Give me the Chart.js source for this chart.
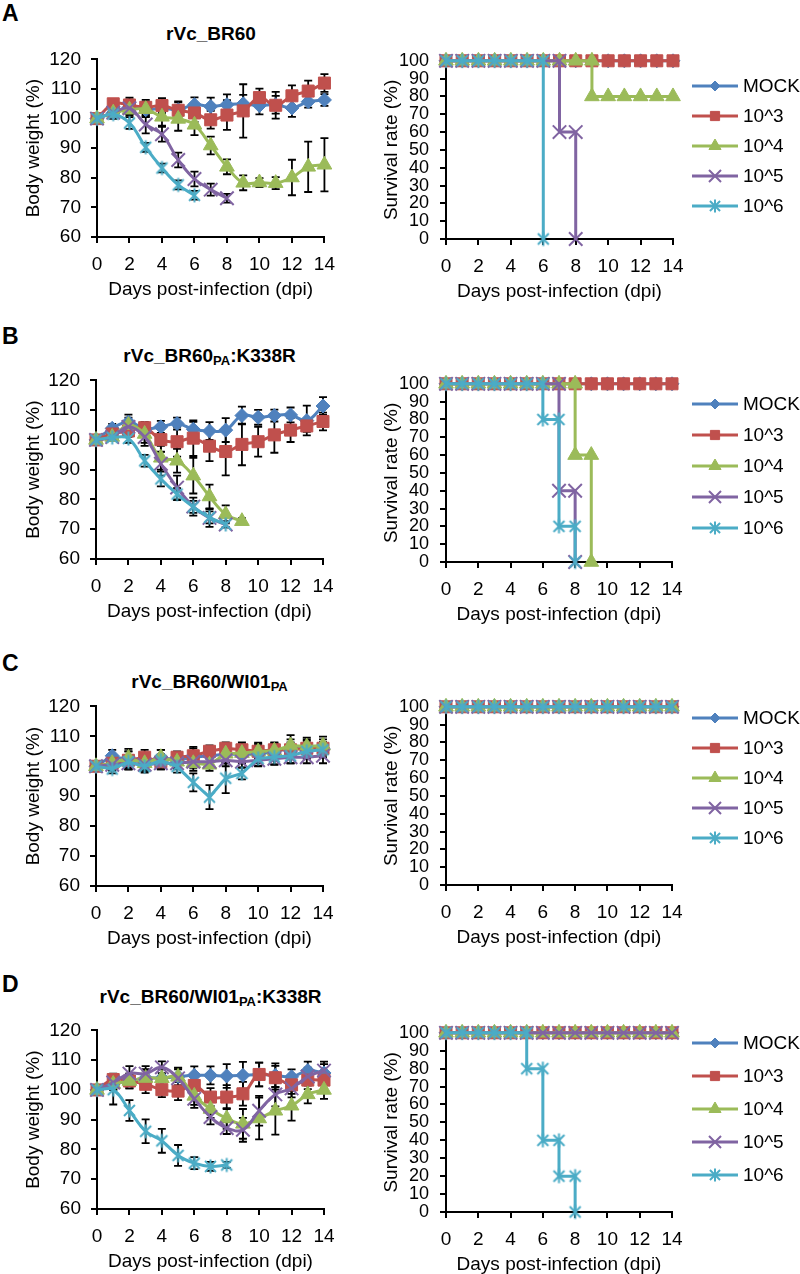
<!DOCTYPE html>
<html><head><meta charset="utf-8">
<script src="https://cdn.jsdelivr.net/npm/chart.js@4.4.1/dist/chart.umd.min.js"></script>
<style>
body{margin:0;background:#fff;width:800px;height:1274px;position:relative;overflow:hidden;font-family:"Liberation Sans",Arial,sans-serif;color:#000}
canvas{position:absolute}
.lbl{position:absolute;font-weight:bold;font-size:23px;line-height:1;transform:translateY(-50%)}
.ttl{position:absolute;font-weight:bold;font-size:19px;transform:translate(-50%,-50%);white-space:nowrap;line-height:1}
.ttl sub{font-size:13px;vertical-align:baseline;position:relative;top:3px}
</style></head>
<body>
<script>
// ---------------- DATA ----------------
const days = [0,1,2,3,4,5,6,7,8,9,10,11,12,13,14];
const seriesLabels = ['MOCK','10^3','10^4','10^5','10^6'];
const panelTitles = ['rVc_BR60','rVc_BR60<sub>PA</sub>:K338R','rVc_BR60/WI01<sub>PA</sub>','rVc_BR60/WI01<sub>PA</sub>:K338R'];
const panelLetters = ['A','B','C','D'];
const xTitle = 'Days post-infection (dpi)';
const yTitleWeight = 'Body weight (%)';
const yTitleSurv = 'Survival rate (%)';

// Panel A body weight (%) mean and SD
const wA_mock = [100,102,104,103,103.5,103,104.7,104.1,104.7,105.0,104.4,104.7,103.6,105.7,106.3];
const sdA_mock = [0,2,2.5,2.5,2.5,2.5,2.5,3,3.5,3,3,3,3,2,2];
const wA_e3 = [100,105,104.6,103.8,104.4,102.8,101.9,99.6,101.2,102.6,107.1,104.5,107.7,109.3,112.0];
const sdA_e3 = [0,1.5,2.5,2.5,2.5,3,3,3,5,9,3,4.5,3.5,3.5,3];
const wA_e4 = [100,102,103,103.2,100.6,99.9,97.9,90.9,83.7,78.3,78.4,78.2,80.1,83.7,84.4];
const sdA_e4 = [0,1,2,2.5,3,4,3.5,3,2.5,2.5,1.5,2,6,8.5,9];
const wA_e5 = [100,102,103.5,98,94.7,86,79.6,76,73.1];
const sdA_e5 = [0,1.5,2,3,2.5,2.5,2.5,2,1.5];
const wA_e6 = [100,101.5,98.5,90.3,83.3,77.6,74.1];
const sdA_e6 = [0,1.5,2,1.5,1.5,1.5,1.5];

// Panel B
const wB_mock = [100,103.9,106,103.9,104.4,105.5,103.6,103,103.3,108.2,107.6,108.2,108.4,106.5,111.4];
const sdB_mock = [0,1.5,2.5,2,2,2,2.5,3,4,3,2.5,2,2.5,5,3];
const wB_e3 = [100,102,103,104.1,100.1,99.4,100.6,97.9,96.1,98.5,99.4,101.7,103.3,104.7,106.2];
const sdB_e3 = [0,1.5,2,2,4,5,6,5,8,7,5,6,4,2,3];
const wB_e4 = [100,101,105,102,94,93,88,81,75,72.7];
const sdB_e4 = [0,1,2.5,3,4,4,6,4,3,1];
const wB_e5 = [100,101,104.4,101,92,84,77.6,73.8,71.6];
const sdB_e5 = [0,1,2,3,4,4,3,3,1];
const wB_e6 = [100,100.8,100.5,93,86.9,81.8,77.5,74,71.6];
const sdB_e6 = [0,1,1.5,2,2.5,2,2,2,1];

// Panel C
const wC_mock = [100,103.5,102,101.5,103,102,103,103.5,104,104,104,105,106,106,106];
const sdC_mock = [0,2,3,2.5,2.5,2,3,3,3,3,3,3,3,3,3];
const wC_e3 = [100,101,102,103,101.5,103,103.5,105,106,105.5,105,105.5,105.5,106,106];
const sdC_e3 = [0,2,3,2.5,2.5,2,3,2,2,2.5,2.5,2,2.5,2.5,2];
const wC_e4 = [100,101,102.8,101,103,101.5,101,100.5,104.2,104.4,104.9,105.2,106.9,106.6,106.9];
const sdC_e4 = [0,2,3,2.5,2.5,2,2.5,2,3,3,3,2.5,3.5,3,3];
const wC_e5 = [100,100.5,101,100.5,101,101,101.5,101.5,102,101.5,102,102.5,103,103,103.5];
const sdC_e5 = [0,2,2,2,2,2,2,2,2,2,2,2,2,2,2.5];
const wC_e6 = [100,99.1,101.5,99.9,102,99.9,94.6,89.7,96,97.6,102.6,103.1,103.5,105,105.5];
const sdC_e6 = [0,1.5,2,2,2,2,3,4,5,2,2.5,2.5,2.5,2.5,2.5];

// Panel D
const wD_mock = [100,102,103,104,104,104.5,104.9,104.9,104.7,104.9,105.2,104.9,104.4,106.5,105.7];
const sdD_mock = [0,2,2,2.5,3,3,3,3,4,4.5,4,4,2.5,3,3];
const wD_e3 = [100,103.5,103,101.9,100.1,99.6,101.5,97.6,97.6,98.7,105.2,104.1,101.7,103.3,103.3];
const sdD_e3 = [0,2,2.5,3,2.5,3,3,3,4,4,4,4,3,3,3];
const wD_e4 = [100,102,103,104,103.9,104.4,98,93.6,90.4,88.6,90.4,93,94.7,98.5,100];
const sdD_e4 = [0,2,2.5,3,3,3,3,3,3.5,5,7,8,5,3,3];
const wD_e5 = [100,102.5,105.5,105.5,107.6,103.9,97,90.9,87.2,86.6,93,98.5,100.5,104.5,106.5];
const sdD_e5 = [0,2,2.5,2.5,2,3,3,2.5,2,4,5,4,3,3,3];
const wD_e6 = [100,100.1,93.1,86.1,82.9,78,75.4,74.3,74.8];
const sdD_e6 = [0,5,3.5,4,4,3.5,2,1.5,1];

// Survival (%) step data: day and percent
const survAll_x = [0,1,2,3,4,5,6,7,8,9,10,11,12,13,14];
const survAll_y = [100,100,100,100,100,100,100,100,100,100,100,100,100,100,100];
const survA_e4_x = [0,1,2,3,4,5,6,7,8,9,9,10,11,12,13,14];
const survA_e4_y = [100,100,100,100,100,100,100,100,100,100,80,80,80,80,80,80];
const survA_e5_x = [0,1,2,3,4,5,6,7,7,8,8];
const survA_e5_y = [100,100,100,100,100,100,100,100,60,60,0];
const survA_e6_x = [0,1,2,3,4,5,6,6];
const survA_e6_y = [100,100,100,100,100,100,100,0];
const survB_e4_x = [0,1,2,3,4,5,6,7,8,8,9,9];
const survB_e4_y = [100,100,100,100,100,100,100,100,100,60,60,0];
const survB_e5_x = [0,1,2,3,4,5,6,7,7,8,8];
const survB_e5_y = [100,100,100,100,100,100,100,100,40,40,0];
const survB_e6_x = [0,1,2,3,4,5,6,6,7,7,8,8];
const survB_e6_y = [100,100,100,100,100,100,100,80,80,20,20,0];
const survD_e6_x = [0,1,2,3,4,5,5,6,6,7,7,8,8];
const survD_e6_y = [100,100,100,100,100,100,80,80,40,40,20,20,0];

const weightMeans = [
  [wA_mock,wA_e3,wA_e4,wA_e5,wA_e6],
  [wB_mock,wB_e3,wB_e4,wB_e5,wB_e6],
  [wC_mock,wC_e3,wC_e4,wC_e5,wC_e6],
  [wD_mock,wD_e3,wD_e4,wD_e5,wD_e6]
];
const weightSDs = [
  [sdA_mock,sdA_e3,sdA_e4,sdA_e5,sdA_e6],
  [sdB_mock,sdB_e3,sdB_e4,sdB_e5,sdB_e6],
  [sdC_mock,sdC_e3,sdC_e4,sdC_e5,sdC_e6],
  [sdD_mock,sdD_e3,sdD_e4,sdD_e5,sdD_e6]
];
const survXs = [
  [survAll_x,survAll_x,survA_e4_x,survA_e5_x,survA_e6_x],
  [survAll_x,survAll_x,survB_e4_x,survB_e5_x,survB_e6_x],
  [survAll_x,survAll_x,survAll_x,survAll_x,survAll_x],
  [survAll_x,survAll_x,survAll_x,survAll_x,survD_e6_x]
];
const survYs = [
  [survAll_y,survAll_y,survA_e4_y,survA_e5_y,survA_e6_y],
  [survAll_y,survAll_y,survB_e4_y,survB_e5_y,survB_e6_y],
  [survAll_y,survAll_y,survAll_y,survAll_y,survAll_y],
  [survAll_y,survAll_y,survAll_y,survAll_y,survD_e6_y]
];

// ---------------- LAYOUT / STYLE ----------------
const FONT = "'Liberation Sans', Arial, Helvetica, sans-serif";
Chart.defaults.font.family = FONT;
Chart.defaults.color = '#000';

const layoutRows = [
  {bw:{top:52,bottom:237,left:97,right:325}, sv:{top:53,bottom:239,left:446,right:673}, legTop:86, legGap:30, titleY:33, letterY:13, tension:0.4},
  {bw:{top:373,bottom:559,left:96,right:323}, sv:{top:376,bottom:562,left:446,right:672}, legTop:404, legGap:31, titleY:355, letterY:336, tension:0.4},
  {bw:{top:699,bottom:886,left:96,right:323}, sv:{top:699,bottom:885,left:446,right:672}, legTop:718, legGap:30, titleY:681, letterY:663, tension:0},
  {bw:{top:1023,bottom:1209,left:97,right:324}, sv:{top:1025,bottom:1212,left:446,right:672}, legTop:1043, legGap:33, titleY:996, letterY:984, tension:0.4}
];

function makeStar(color, size){
  const c = document.createElement('canvas');
  c.width = size; c.height = size;
  const g = c.getContext('2d');
  g.strokeStyle = color; g.lineWidth = 2; g.lineCap = 'butt';
  const m = size/2, a = size/2 - 1.5;
  g.beginPath();
  g.moveTo(m - a*0.78, m - a*0.78); g.lineTo(m + a*0.78, m + a*0.78);
  g.moveTo(m + a*0.78, m - a*0.78); g.lineTo(m - a*0.78, m + a*0.78);
  g.moveTo(m, m - a); g.lineTo(m, m + a);
  g.stroke();
  return c;
}

const colors = ['#4F81BD','#C0504D','#9BBB59','#8064A2','#4BACC6'];
const markerStyles = [
  {style:'rectRot', r:7, bw:1, lr:5},
  {style:'rect', r:8.5, bw:1, lr:6.5},
  {style:'triangle', r:8.5, bw:1, lr:7},
  {style:'crossRot', r:9.5, bw:2, lr:8.5},
  {style:makeStar(colors[4], 17), r:8, bw:2, lr:8, legendImg:makeStar(colors[4], 16)}
];

const errorBarsPlugin = {
  id:'errorBars',
  beforeDatasetsDraw(chart){
    const {ctx} = chart; const x = chart.scales.x, y = chart.scales.y;
    ctx.save(); ctx.strokeStyle = '#000'; ctx.lineWidth = 1.8;
    chart.data.datasets.forEach(ds => {
      if (!ds.errors) return;
      ds.data.forEach((p, j) => {
        const e = ds.errors[j]; if (!e) return;
        const px = x.getPixelForValue(p.x);
        const yt = y.getPixelForValue(p.y + e), yb = y.getPixelForValue(p.y - e);
        ctx.beginPath();
        ctx.moveTo(px, yt); ctx.lineTo(px, yb);
        ctx.moveTo(px - 4, yt); ctx.lineTo(px + 4, yt);
        ctx.moveTo(px - 4, yb); ctx.lineTo(px + 4, yb);
        ctx.stroke();
      });
    });
    ctx.restore();
  }
};

const legendPlugin = {
  id:'sideLegend',
  afterDraw(chart, args, opts){
    if (!opts || !opts.show) return;
    const ctx = chart.ctx;
    ctx.save();
    chart.data.datasets.forEach((ds, i) => {
      const y = opts.top + i * opts.gap;
      ctx.strokeStyle = ds.borderColor; ctx.lineWidth = 3;
      ctx.beginPath(); ctx.moveTo(opts.x0, y); ctx.lineTo(opts.x1, y); ctx.stroke();
      const ms = markerStyles[i];
      ctx.fillStyle = ds.borderColor; ctx.strokeStyle = ds.borderColor;
      ctx.lineWidth = ms.bw;
      const st = ms.legendImg || ms.style;
      Chart.helpers.drawPoint(ctx, {pointStyle: st, radius: ms.lr, borderWidth: ms.bw, rotation: 0}, (opts.x0 + opts.x1)/2, y);
      ctx.fillStyle = '#000';
      ctx.font = '19px ' + FONT;
      ctx.textBaseline = 'middle'; ctx.textAlign = 'left';
      ctx.fillText(ds.label, opts.x1 + 5, y + 1);
    });
    ctx.restore();
  }
};

function axisCommon(min, max, step, tickSize, tickPad){
  return {
    type:'linear', min:min, max:max,
    ticks:{stepSize:step, color:'#000', font:{size:tickSize, family:FONT}, padding:tickPad, maxRotation:0, autoSkip:false},
    grid:{drawOnChartArea:false, drawTicks:true, tickLength:6, color:'#000', tickColor:'#000', lineWidth:2},
    border:{color:'#000', width:2}
  };
}

function addCanvas(left, top, w, h){
  const c = document.createElement('canvas');
  c.width = w; c.height = h;
  c.style.left = left + 'px'; c.style.top = top + 'px';
  c.style.width = w + 'px'; c.style.height = h + 'px';
  document.body.appendChild(c);
  return c;
}

layoutRows.forEach((L, r) => {
  const lt = document.createElement('div'); lt.className = 'lbl';
  lt.style.left = '2px'; lt.style.top = L.letterY + 'px'; lt.textContent = panelLetters[r];
  document.body.appendChild(lt);
  const tt = document.createElement('div'); tt.className = 'ttl';
  tt.style.left = ((L.bw.left + L.bw.right)/2) + 'px'; tt.style.top = L.titleY + 'px';
  tt.innerHTML = panelTitles[r];
  document.body.appendChild(tt);

  // ---- body weight chart ----
  const padTop = 14, xH = 70;
  const bwW = 345;
  const bwTop = L.bw.top - padTop;
  const bwH = L.bw.bottom + xH - bwTop;
  const c1 = addCanvas(0, bwTop, bwW, bwH);
  const xs1 = axisCommon(0, 14, 2, 19, 10);
  xs1.title = {display:true, text:xTitle, color:'#000', font:{size:19, family:FONT}, padding:{top:0, bottom:6}};
  xs1.afterFit = s => { s.height = xH; };
  const ys1 = axisCommon(60, 120, 10, 19, 10);
  ys1.title = {display:true, text:yTitleWeight, color:'#000', font:{size:19, family:FONT}, padding:{top:22, bottom:0}};
  ys1.afterFit = s => { s.width = L.bw.left; };
  new Chart(c1, {
    type:'line',
    data:{datasets: seriesLabels.map((lab, i) => ({
      label: lab,
      data: weightMeans[r][i].map((v, j) => ({x: days[j], y: v})),
      errors: weightSDs[r][i],
      borderColor: colors[i], backgroundColor: colors[i],
      pointBackgroundColor: colors[i], pointBorderColor: colors[i],
      borderWidth: 3, tension: L.tension,
      pointStyle: markerStyles[i].style, pointRadius: markerStyles[i].r,
      pointBorderWidth: markerStyles[i].bw, pointHoverRadius: markerStyles[i].r,
      order: 4 - i, clip: false
    }))},
    options:{
      responsive:false, animation:false, devicePixelRatio:1,
      layout:{padding:{top:padTop, right:bwW - L.bw.right, left:0, bottom:0}},
      scales:{x:xs1, y:ys1},
      plugins:{legend:{display:false}, tooltip:{enabled:false}, title:{display:false}}
    },
    plugins:[errorBarsPlugin]
  });

  // ---- survival chart ----
  const svLeft = 370, svW = 430;
  const svTop = L.sv.top - padTop;
  const svH = L.sv.bottom + xH - svTop;
  const c2 = addCanvas(svLeft, svTop, svW, svH);
  const xs2 = axisCommon(0, 14, 2, 19, 10);
  xs2.title = {display:true, text:xTitle, color:'#000', font:{size:19, family:FONT}, padding:{top:0, bottom:6}};
  xs2.afterFit = s => { s.height = xH; };
  const ys2 = axisCommon(0, 100, 10, 18, 11);
  ys2.title = {display:true, text:yTitleSurv, color:'#000', font:{size:19, family:FONT}, padding:{top:10, bottom:0}};
  ys2.afterFit = s => { s.width = L.sv.left - svLeft; };
  new Chart(c2, {
    type:'line',
    data:{datasets: seriesLabels.map((lab, i) => ({
      label: lab,
      data: survXs[r][i].map((d, j) => ({x: d, y: survYs[r][i][j]})),
      borderColor: colors[i], backgroundColor: colors[i],
      pointBackgroundColor: colors[i], pointBorderColor: colors[i],
      borderWidth: 3, tension: 0,
      pointStyle: markerStyles[i].style, pointRadius: markerStyles[i].r,
      pointBorderWidth: markerStyles[i].bw, pointHoverRadius: markerStyles[i].r,
      order: 4 - i, clip: false
    }))},
    options:{
      responsive:false, animation:false, devicePixelRatio:1,
      layout:{padding:{top:padTop, right:svW - (L.sv.right - svLeft), left:0, bottom:0}},
      scales:{x:xs2, y:ys2},
      plugins:{legend:{display:false}, tooltip:{enabled:false}, title:{display:false},
        sideLegend:{show:true, top:L.legTop - svTop, gap:L.legGap, x0:692 - svLeft, x1:738 - svLeft}}
    },
    plugins:[legendPlugin]
  });
});
</script>
</body></html>
